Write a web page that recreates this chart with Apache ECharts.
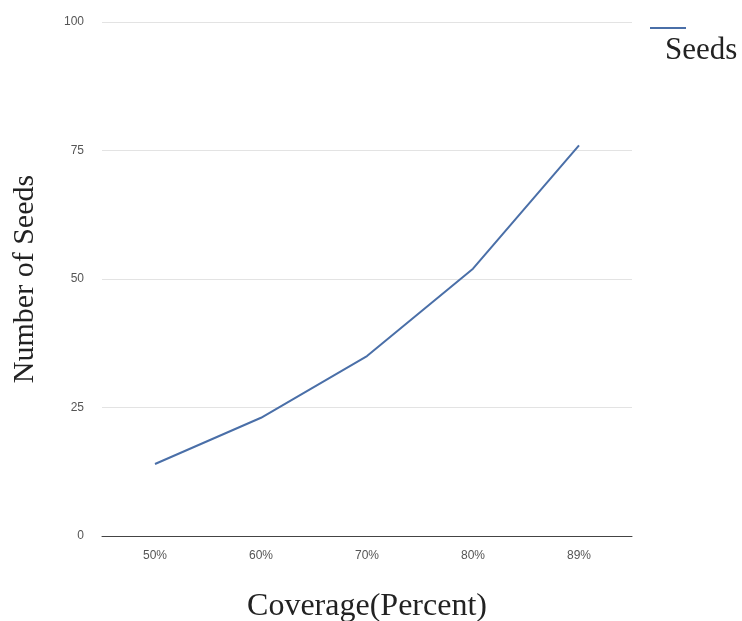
<!DOCTYPE html>
<html>
<head>
<meta charset="utf-8">
<script src="https://cdn.jsdelivr.net/npm/echarts@6/dist/echarts.min.js"></script>
<style>html,body{margin:0;padding:0;background:#fff;}#c{width:742px;height:621px;}</style>
</head>
<body>
<div id="c"></div>
<script>
var categories = ['50%', '60%', '70%', '80%', '89%'];
var seeds = [14, 23, 35, 52, 76];
var yTicks = [0, 25, 50, 75, 100];
var seriesName = 'Seeds';

var chart = echarts.init(document.getElementById('c'));
chart.setOption({
  backgroundColor: '#fff',
  animation: false,
  grid: {left: 102, right: 110, top: 22, bottom: 85, containLabel: false, outerBoundsMode: 'none'},
  legend: {
    data: [seriesName],
    right: 51, top: 22,
    icon: 'rect', itemWidth: 36, itemHeight: 2,
    formatter: function () { return ''; },
    itemStyle: {color: '#4a6fa8'}
  },
  graphic: [{
    type: 'text', left: 665, top: 35,
    style: {text: seriesName, font: '31px "Liberation Serif", "DejaVu Serif", serif', fill: '#222'}
  }],
  xAxis: {
    type: 'category', data: categories, boundaryGap: true,
    name: 'Coverage(Percent)', nameLocation: 'middle', nameGap: 55,
    nameTextStyle: {fontFamily: '"Liberation Serif", serif', fontSize: 32, color: '#222'},
    axisLine: {lineStyle: {color: '#444', width: 1}},
    axisTick: {show: false},
    axisLabel: {color: '#555', fontSize: 12, fontFamily: '"Liberation Sans", Arial, sans-serif', margin: 14},
    splitLine: {show: false}
  },
  yAxis: {
    type: 'value', min: yTicks[0], max: yTicks[yTicks.length - 1], interval: 25,
    name: 'Number of Seeds', nameLocation: 'middle', nameGap: 62,
    nameTextStyle: {fontFamily: '"Liberation Serif", serif', fontSize: 30, color: '#222'},
    axisLine: {show: false}, axisTick: {show: false},
    axisLabel: {color: '#555', fontSize: 12, fontFamily: '"Liberation Sans", Arial, sans-serif', margin: 18},
    splitLine: {lineStyle: {color: '#e3e3e3', width: 1}}
  },
  series: [{
    name: seriesName, type: 'line', data: seeds,
    symbol: 'none', smooth: false,
    lineStyle: {color: '#4a6fa8', width: 2},
    itemStyle: {color: '#4a6fa8'}
  }]
});
</script>
</body>
</html>
